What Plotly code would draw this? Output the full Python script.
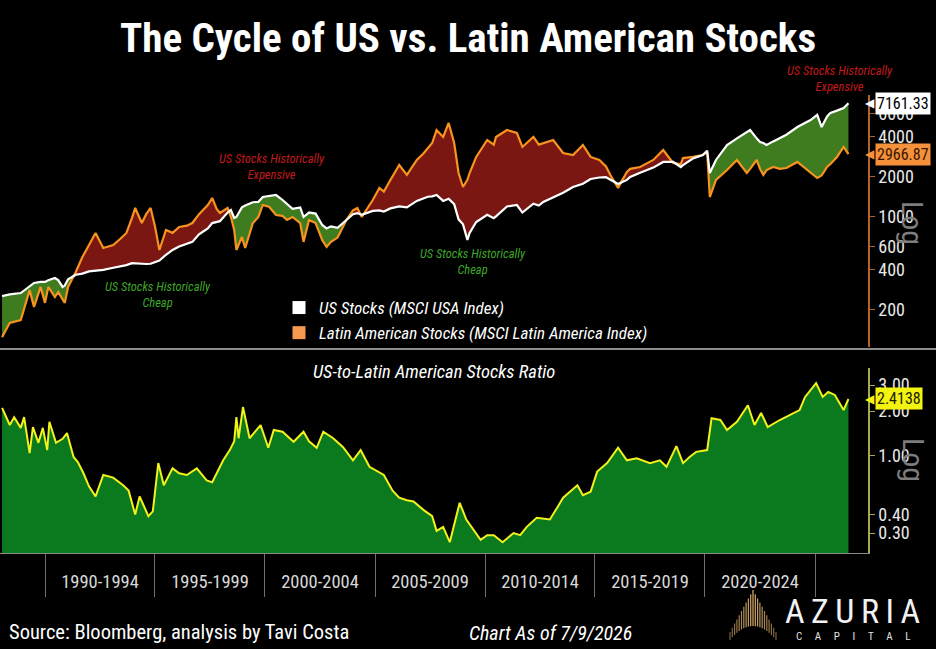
import math
import pandas as pd
import plotly.graph_objects as go

# ---------------- DATA ----------------
top_years = [
    1988.05, 1988.4, 1988.9,
    1989.3, 1989.5, 1989.8,
    1990.0, 1990.15, 1990.45, 1990.6, 1990.8, 1990.9,
    1991.05, 1991.4, 1991.7,
    1992.0, 1992.3, 1992.65,
    1993.1, 1993.4, 1993.7, 1993.95,
    1994.1, 1994.4, 1994.6, 1994.8,
    1995.0, 1995.2, 1995.5, 1995.8,
    1996.1, 1996.45, 1996.7,
    1997.0, 1997.4, 1997.6, 1997.8, 1997.95,
    1998.3, 1998.45, 1998.6, 1998.7, 1998.95,
    1999.1, 1999.45, 1999.7, 1999.9,
    2000.2, 2000.5, 2000.8,
    2001.0, 2001.25, 2001.6, 2001.75,
    2002.0, 2002.3, 2002.6, 2002.8,
    2003.0, 2003.3, 2003.7,
    2004.0, 2004.2, 2004.4, 2004.9,
    2005.2, 2005.4, 2005.7,
    2006.1, 2006.45, 2006.9,
    2007.2, 2007.4, 2007.6, 2007.8,
    2008.1, 2008.35, 2008.6, 2008.8,
    2009.0, 2009.2, 2009.3, 2009.6,
    2010.1, 2010.4, 2010.5,
    2011.0, 2011.45, 2011.7,
    2012.2, 2012.45, 2012.65,
    2013.1, 2013.55,
    2014.0, 2014.45, 2014.8,
    2015.2, 2015.5, 2015.7,
    2016.05, 2016.45, 2016.6,
    2017.05, 2017.65,
    2018.1, 2018.55, 2018.9,
    2019.0, 2019.45, 2019.9,
    2020.1, 2020.22, 2020.5,
    2021.0, 2021.45, 2021.9,
    2022.05, 2022.35, 2022.5, 2022.65, 2022.8,
    2023.1, 2023.4, 2023.7,
    2024.2, 2024.65, 2024.8,
    2025.1, 2025.3, 2025.55, 2025.7,
    2026.0, 2026.3, 2026.52,
]

us_stocks = [
    254, 262, 268,
    300, 319, 325,
    325, 335, 348, 335, 298, 305,
    340, 368, 375,
    390, 395, 400,
    415, 425, 435, 450,
    448, 440, 443, 445,
    455, 470, 520, 565,
    600, 630, 650,
    740, 820, 900, 917, 930,
    1080, 1129, 983, 1000, 1180,
    1220, 1290, 1300, 1413,
    1440, 1463, 1342,
    1250, 1150, 1180, 1000,
    1080, 1060, 871, 820,
    850, 830, 950,
    1050, 1070, 1040, 1110,
    1120, 1100, 1160,
    1200, 1180, 1320,
    1389, 1420, 1430, 1463,
    1320, 1370, 1250, 960,
    880, 671, 760, 917,
    1040, 980, 1010,
    1200, 1231, 1080,
    1260, 1220, 1297,
    1400, 1520,
    1681, 1780, 1930,
    1980, 1990, 1897,
    1770, 1900, 2000,
    2150, 2350,
    2593, 2600, 2375,
    2450, 2750, 2924,
    3150, 2140, 2683,
    3475, 3900, 4350,
    4509, 3900, 3660, 3600, 3475,
    3700, 3921, 4150,
    4743, 5200, 5357,
    5852, 4743, 5700, 6063,
    6300, 6584, 7161.33,
]

latam_stocks = [
    125, 160, 168,
    282, 211, 298,
    226, 298, 250, 273, 240, 226,
    298, 386, 500,
    620, 758, 585,
    616, 680, 758, 980,
    1169, 901, 1050, 1169,
    850, 565, 799, 760,
    841, 860, 901,
    1050, 1231, 1389, 1150, 1072,
    1169, 1000, 799, 565, 707,
    585, 901, 1000, 1231,
    1189, 1035, 1020,
    950, 1000, 901, 650,
    950, 900, 671, 595,
    650, 700, 950,
    1120, 1169, 1000, 1342,
    1652, 1550, 1897,
    2459, 2069, 2683,
    3000, 3304, 3600, 4509,
    3995, 5090, 3600, 2140,
    1681, 1900, 2140, 2827,
    3791, 3500, 3995,
    4509, 4283, 3359,
    3995, 3500, 3600,
    3791, 3027,
    2924, 3475, 2827,
    2683, 2400, 2069,
    1652, 2179, 2300,
    2375, 2683,
    3187, 2547, 2500,
    2774, 2827, 2924,
    3080, 1413, 1897,
    2254, 2683, 2140,
    2300, 2683, 2300, 2069, 2250,
    2375, 2300, 2336,
    2593, 2254, 2150,
    1963, 2050, 2375, 2500,
    2827, 3359, 2966.87,
]

ratio_years = [
    1988.05, 1988.2, 1988.4, 1988.6, 1988.9,
    1989.05, 1989.3, 1989.45, 1989.7, 1989.9,
    1990.1, 1990.2, 1990.5, 1990.8,
    1991.0, 1991.3, 1991.5, 1991.75,
    1992.0, 1992.3, 1992.65,
    1993.1, 1993.55, 1993.8,
    1994.1, 1994.3, 1994.7, 1994.9,
    1995.15, 1995.4, 1995.8,
    1996.1, 1996.45, 1996.9,
    1997.35, 1997.6, 1997.8,
    1998.1, 1998.4, 1998.6, 1998.7, 1998.8,
    1999.0, 1999.3, 1999.55, 1999.8,
    2000.15, 2000.4, 2000.8,
    2001.3, 2001.75,
    2002.0, 2002.35, 2002.65,
    2003.1, 2003.55,
    2004.0, 2004.35, 2004.75,
    2005.1, 2005.4, 2005.8,
    2006.1, 2006.45, 2006.75,
    2007.2, 2007.6, 2007.8,
    2008.1, 2008.4, 2008.85,
    2009.15, 2009.5, 2009.8,
    2010.1, 2010.4, 2010.8,
    2011.3, 2011.6, 2011.9,
    2012.35, 2012.95,
    2013.3, 2013.55,
    2014.2, 2014.45, 2014.8,
    2015.1, 2015.55,
    2016.05, 2016.45, 2016.9,
    2017.5, 2017.95,
    2018.25, 2018.7,
    2019.0, 2019.3, 2019.6,
    2020.1, 2020.3, 2020.7,
    2021.0, 2021.45, 2021.95,
    2022.25, 2022.55, 2022.85,
    2023.4, 2023.85,
    2024.3, 2024.55,
    2025.05, 2025.35, 2025.6, 2025.9,
    2026.3, 2026.52,
]

us_latam_ratio = [
    2.10, 1.85, 1.61, 1.82, 1.54,
    1.82, 1.04, 1.56, 1.22, 1.54,
    1.09, 1.69, 1.22, 1.30,
    1.42, 0.98, 0.90, 0.76,
    0.62, 0.53, 0.74,
    0.71, 0.63, 0.58,
    0.40, 0.53, 0.39, 0.42,
    0.89, 0.63, 0.82,
    0.76, 0.74, 0.82,
    0.68, 0.66, 0.76,
    0.93, 1.09, 1.25, 1.82, 1.31,
    2.13, 1.31, 1.45, 1.61,
    1.13, 1.49, 1.45,
    1.24, 1.45,
    1.25, 1.13, 1.45,
    1.31, 1.14,
    0.93, 1.09, 0.84,
    0.78, 0.74, 0.58,
    0.52, 0.50, 0.49,
    0.43, 0.39, 0.31,
    0.33, 0.26, 0.48,
    0.37, 0.31, 0.27,
    0.29, 0.29, 0.26,
    0.30, 0.29, 0.33,
    0.38, 0.37,
    0.45, 0.52,
    0.63, 0.54, 0.57,
    0.78, 0.89,
    1.13, 0.93, 0.96,
    0.89, 0.93,
    0.84, 1.16,
    0.89, 0.98, 1.06,
    1.09, 1.79, 1.74,
    1.49, 1.69, 2.19,
    1.61, 1.94, 1.56,
    1.74, 1.88,
    2.03, 2.49,
    3.09, 2.49, 2.69, 2.57,
    2.03, 2.4138,
]

period_starts = [1990, 1995, 2000, 2005, 2010, 2015, 2020]
period_labels = ["1990-1994", "1995-1999", "2000-2004", "2005-2009",
                 "2010-2014", "2015-2019", "2020-2024"]
period_bounds = [1990, 1995, 2000, 2005, 2010, 2015, 2020, 2025]
top_ticks = [200, 400, 600, 1000, 2000, 4000, 6000]
ratio_ticks = [0.3, 0.4, 1.0, 2.0, 3.0]
ratio_ticktext = ["0.30", "0.40", "1.00", "2.00", "3.00"]
x_range_years = [1987.955, 2027.41]

# ---------------- helpers ----------------
def to_date(y):
    yr = int(math.floor(y))
    return pd.Timestamp(f"{yr}-01-01") + pd.Timedelta(days=(y - yr) * 365.25)

top_dates = [to_date(v) for v in top_years]
ratio_dates = [to_date(v) for v in ratio_years]
upper = [max(a, b) for a, b in zip(us_stocks, latam_stocks)]

W, H = 936, 649
def px(x):
    return x / W
def py(y):
    return 1 - y / H

FONT = "Liberation Sans Narrow, Roboto Condensed, Arial Narrow, Roboto, sans-serif"
ORANGE = "#f7931e"
RED_FILL = "#7a1712"
GREEN_FILL = "#3e7c1f"
BOT_FILL = "#0b7a1f"
YELLOW = "#f2f21c"

fig = go.Figure()
# red area: US below LatAm
fig.add_trace(go.Scatter(x=top_dates, y=us_stocks, mode="lines", line=dict(width=0),
                         showlegend=False, hoverinfo="skip", xaxis="x", yaxis="y"))
fig.add_trace(go.Scatter(x=top_dates, y=upper, mode="lines", line=dict(width=0),
                         fill="tonexty", fillcolor=RED_FILL, showlegend=False,
                         hoverinfo="skip", xaxis="x", yaxis="y"))
# green area: US above LatAm
fig.add_trace(go.Scatter(x=top_dates, y=latam_stocks, mode="lines", line=dict(width=0),
                         showlegend=False, hoverinfo="skip", xaxis="x", yaxis="y"))
fig.add_trace(go.Scatter(x=top_dates, y=upper, mode="lines", line=dict(width=0),
                         fill="tonexty", fillcolor=GREEN_FILL, showlegend=False,
                         hoverinfo="skip", xaxis="x", yaxis="y"))
fig.add_trace(go.Scatter(x=top_dates, y=latam_stocks, mode="lines",
                         line=dict(color=ORANGE, width=2.2), showlegend=False,
                         xaxis="x", yaxis="y"))
fig.add_trace(go.Scatter(x=top_dates, y=us_stocks, mode="lines",
                         line=dict(color="white", width=2.2), showlegend=False,
                         xaxis="x", yaxis="y"))
# legend entries
fig.add_trace(go.Scatter(x=[None], y=[None], mode="markers",
                         marker=dict(symbol="square", size=13, color="white"),
                         name="US Stocks (MSCI USA Index)", xaxis="x", yaxis="y"))
fig.add_trace(go.Scatter(x=[None], y=[None], mode="markers",
                         marker=dict(symbol="square", size=13, color="#f59a50"),
                         name="Latin American Stocks (MSCI Latin America Index)",
                         xaxis="x", yaxis="y"))
# ratio
fig.add_trace(go.Scatter(x=ratio_dates, y=us_latam_ratio, mode="lines",
                         line=dict(color=YELLOW, width=2), fill="tozeroy",
                         fillcolor=BOT_FILL, showlegend=False, xaxis="x2", yaxis="y2"))

xr = [to_date(v) for v in x_range_years]
mids = [to_date(s + 2.5) for s in period_starts]
bounds = [to_date(b) for b in period_bounds]
XDOM = [0, px(868)]

fig.update_layout(
    width=W, height=H, margin=dict(l=0, r=0, t=0, b=0),
    paper_bgcolor="black", plot_bgcolor="black",
    font=dict(family=FONT, color="white"),
    xaxis=dict(domain=XDOM, range=xr, type="date", showticklabels=False,
               showgrid=False, zeroline=False, showline=False, anchor="y"),
    yaxis=dict(domain=[py(347), py(95)], type="log",
               range=[2.0226, 3.917], side="right", anchor="x",
               tickvals=top_ticks, ticktext=[str(t) for t in top_ticks],
               showgrid=False, zeroline=False, showline=True,
               linecolor="#b0642c", linewidth=1.5, ticks="outside", ticklen=5,
               tickcolor="#b0642c", tickfont=dict(size=18, color="#e8e8e8")),
    xaxis2=dict(domain=XDOM, range=xr, type="date", anchor="y2",
                showgrid=False, zeroline=False, showline=True,
                linecolor="#8a8a8a", linewidth=1,
                tickvals=mids, ticktext=period_labels,
                ticks="outside", ticklen=12, tickcolor="rgba(0,0,0,0)",
                tickfont=dict(size=18.5, color="#d8d8d8"),
                minor=dict(tickvals=bounds, ticks="outside", ticklen=43,
                           tickcolor="#6e6e6e", tickwidth=1, showgrid=False)),
    yaxis2=dict(domain=[py(553), py(368)], type="log",
                range=[-0.658, 0.592], side="right", anchor="x2",
                tickvals=ratio_ticks, ticktext=ratio_ticktext,
                showgrid=False, zeroline=False, showline=True,
                linecolor="#a8a850", linewidth=1.5, ticks="outside", ticklen=5,
                tickcolor="#a8a850", tickfont=dict(size=18, color="#e8e8e8")),
    legend=dict(x=px(279), y=py(290), xanchor="left", yanchor="top",
                bgcolor="rgba(0,0,0,0)", traceorder="normal",
                font=dict(size=17, color="white", style="italic", family=FONT),
                tracegroupgap=0, itemwidth=30),
    showlegend=True,
)

ann = []
def A(text, x, y, size, color="white", style="normal", weight="normal",
      xanchor="center", angle=0, **kw):
    d = dict(text=text, x=x, y=y, xref="paper", yref="paper", showarrow=False,
             xanchor=xanchor, yanchor="middle", textangle=angle,
             font=dict(size=size, color=color, style=style, weight=weight, family=FONT))
    d.update(kw)
    ann.append(d)

A("The Cycle of US vs. Latin American Stocks", 0.5, py(38), 41, weight="bold")
A("US Stocks Historically<br>Expensive", px(272), py(166), 12.5, color="#c01a1a", style="italic")
A("US Stocks Historically<br>Expensive", px(840), py(79), 12.5, color="#c01a1a", style="italic")
A("US Stocks Historically<br>Cheap", px(158), py(294), 12.5, color="#3fa62a", style="italic")
A("US Stocks Historically<br>Cheap", px(473), py(262), 12.5, color="#3fa62a", style="italic")
A("US-to-Latin American Stocks Ratio", px(434), py(372), 18.5, style="italic")
A("Log", px(913), py(223), 30, color="#7c7c7c", angle=90)
A("Log", px(914), py(460), 30, color="#7c7c7c", angle=90)
A("Source: Bloomberg, analysis by Tavi Costa", px(7), py(632), 20.5, xanchor="left")
A("Chart As of 7/9/2026", px(467), py(633), 20, style="italic", xanchor="left")
A("A\u2009Z\u2009U\u2009R\u2009I\u2009A", px(852), py(611), 34, color="#f2f2f2")
A("C\u00a0\u00a0\u00a0\u00a0\u00a0A\u00a0\u00a0\u00a0\u00a0\u00a0P\u00a0\u00a0\u00a0\u00a0\u00a0I\u00a0\u00a0\u00a0\u00a0\u00a0T\u00a0\u00a0\u00a0\u00a0\u00a0A\u00a0\u00a0\u00a0\u00a0\u00a0L",
  px(853), py(636), 11, color="#e0e0e0")

# last-value tags
def tag(value, text, yref, bg, fg):
    ann.append(dict(text=text, x=px(875), y=math.log10(value), xref="paper", yref=yref,
                    showarrow=False, xanchor="left", yanchor="middle", bgcolor=bg,
                    borderpad=1, font=dict(size=16, color=fg, family=FONT)))
    ann.append(dict(text="\u25C0", x=px(877), y=math.log10(value), xref="paper", yref=yref,
                    showarrow=False, xanchor="right", yanchor="middle",
                    font=dict(size=12, color=bg, family="DejaVu Sans")))

tag(us_stocks[-1], f"{us_stocks[-1]:.2f}", "y", "white", "black")
tag(latam_stocks[-1], f"{latam_stocks[-1]:.2f}", "y", "#f5913a", "#3a1500")
tag(us_latam_ratio[-1], f"{us_latam_ratio[-1]:.4f}", "y2", "#f3f312", "#202000")

fig.update_layout(annotations=ann)

# separator line between panels
shapes = [dict(type="line", xref="paper", yref="paper", x0=0, x1=1,
               y0=py(349), y1=py(349), line=dict(color="#8c8c8c", width=2))]
# logo emblem: golden vertical strokes forming a peak
n = 21
for i in range(n):
    xx = 730 + i * (46 / (n - 1))
    d = abs(xx - 753) / 23.0
    top = 590 + 42 * d
    bot = 640 - 14 * (1 - d * d)
    if bot - top < 2:
        continue
    g = int(120 + 100 * (1 - d))
    shapes.append(dict(type="line", xref="paper", yref="paper",
                       x0=px(xx), x1=px(xx), y0=py(top), y1=py(bot),
                       line=dict(color=f"rgb({g},{int(g*0.8)},{int(g*0.5)})", width=1.2)))
fig.update_layout(shapes=shapes)

fig.write_html("out.html")
